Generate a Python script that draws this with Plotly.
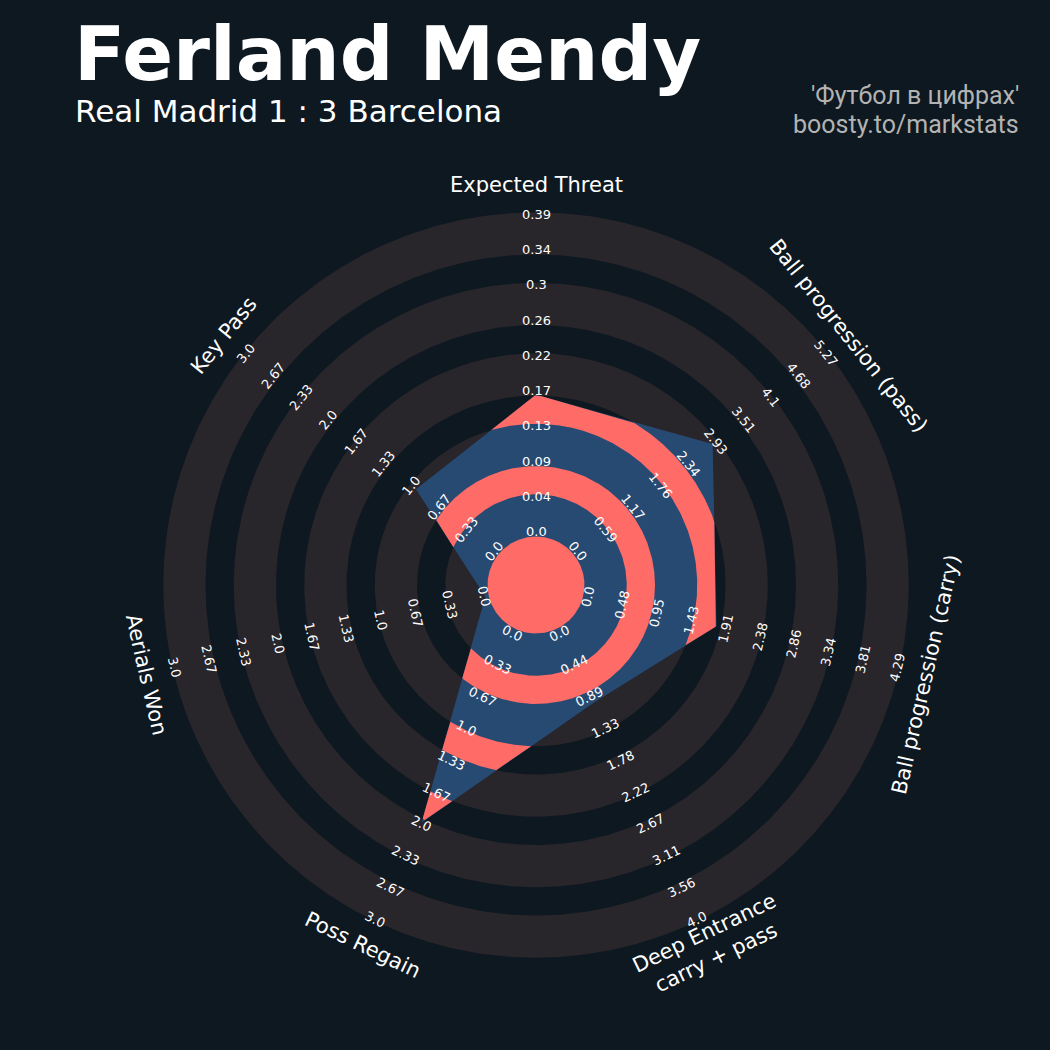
import numpy as np
import plotly.graph_objects as go

# radar data
params = ["Expected Threat", "Ball progression (pass)", "Ball progression (carry)",
          "Deep Entrance<br>carry + pass", "Poss Regain", "Aerials Won", "Key Pass"]
values = [0.17, 2.89, 1.80, 1.0, 2.0, 0.0, 0.96]
range_max = [0.39, 5.27, 4.29, 4.0, 3.0, 3.0, 3.0]
range_labels = [
    ["0.0", "0.04", "0.09", "0.13", "0.17", "0.22", "0.26", "0.3", "0.34", "0.39"],
    ["0.0", "0.59", "1.17", "1.76", "2.34", "2.93", "3.51", "4.1", "4.68", "5.27"],
    ["0.0", "0.48", "0.95", "1.43", "1.91", "2.38", "2.86", "3.34", "3.81", "4.29"],
    ["0.0", "0.44", "0.89", "1.33", "1.78", "2.22", "2.67", "3.11", "3.56", "4.0"],
    ["0.0", "0.33", "0.67", "1.0", "1.33", "1.67", "2.0", "2.33", "2.67", "3.0"],
    ["0.0", "0.33", "0.67", "1.0", "1.33", "1.67", "2.0", "2.33", "2.67", "3.0"],
    ["0.0", "0.33", "0.67", "1.0", "1.33", "1.67", "2.0", "2.33", "2.67", "3.0"],
]

title = "Ferland Mendy"
subtitle = "Real Madrid 1 : 3 Barcelona"
credits = ["'Футбол в цифрах'", "boosty.to/markstats"]

BG = "#0e1820"
RING = "#28252b"
RADAR = "#274a73"
RADAR_RING = "#ff6b66"
FONT = "DejaVu Sans"

# geometry (in pixels, centre of radar at 536, 585)
CX, CY = 536, 585
CENTER_R = 52.0
RING_W = 35.25
EDGE = 3.5
N_RINGS = 9
MAX_R = CENTER_R + N_RINGS * RING_W
LABEL_R = 400

n = len(params)
angles = np.deg2rad(90 - np.arange(n) * 360 / n)
radii = np.array([CENTER_R + v / m * (MAX_R - CENTER_R) for v, m in zip(values, range_max)])
verts = np.stack([radii * np.cos(angles), radii * np.sin(angles)], axis=1)

# ring bounds: the thick rings carry an edge line
ring_out = [CENTER_R + (2 * j + 1) * RING_W + EDGE for j in range(5)]
ring_in = [CENTER_R + 2 * j * RING_W - EDGE for j in range(5)]

# radius of the radar polygon along a fine set of directions
theta, poly_r = [], []
for i in range(n):
    a, b = verts[i], verts[(i + 1) % n]
    e = b - a
    th = np.linspace(angles[i], angles[i] - 2 * np.pi / n, 300, endpoint=False)
    dx, dy = np.cos(th), np.sin(th)
    theta.extend(th)
    poly_r.extend((a[0] * e[1] - a[1] * e[0]) / (dx * e[1] - dy * e[0]))
theta = np.array(theta)
poly_r = np.array(poly_r)


def disc(r, color):
    t = np.linspace(0, 2 * np.pi, 721)
    return go.Scatter(x=r * np.cos(t), y=r * np.sin(t), mode="lines", fill="toself",
                      fillcolor=color, line=dict(width=0), hoverinfo="skip")


def clipped_band(lo, hi, color):
    # ring lo..hi cut by the radar polygon
    outer = np.minimum(poly_r, hi)
    xs, ys = [], []
    if lo <= 0:
        xs, ys = list(outer * np.cos(theta)), list(outer * np.sin(theta))
    elif np.all(poly_r > lo):
        t = np.append(theta, theta[0])
        o = np.append(outer, outer[0])
        xs = list(o * np.cos(t)) + list(lo * np.cos(t[::-1]))
        ys = list(o * np.sin(t)) + list(lo * np.sin(t[::-1]))
    else:
        mask = poly_r > lo
        shift = int(np.argmin(mask))
        t = np.roll(theta, -shift)
        o = np.roll(outer, -shift)
        m = np.roll(mask, -shift)
        idx = np.flatnonzero(m)
        runs = np.split(idx, np.flatnonzero(np.diff(idx) > 1) + 1)
        for run in runs:
            if len(run) == 0:
                continue
            tr, orr = t[run], o[run]
            xs += list(orr * np.cos(tr)) + list(lo * np.cos(tr[::-1])) + [None]
            ys += list(orr * np.sin(tr)) + list(lo * np.sin(tr[::-1])) + [None]
    return go.Scatter(x=xs, y=ys, mode="lines", fill="toself", fillcolor=color,
                      line=dict(width=0), hoverinfo="skip", connectgaps=False)


fig = go.Figure()

for j in range(4, -1, -1):
    fig.add_trace(disc(ring_out[j], RING))
    fig.add_trace(disc(ring_in[j], BG))

fig.add_trace(go.Scatter(x=list(verts[:, 0]) + [verts[0, 0]], y=list(verts[:, 1]) + [verts[0, 1]],
                         mode="lines", fill="toself", fillcolor=RADAR, line=dict(width=0),
                         hoverinfo="skip"))
fig.add_trace(clipped_band(0, ring_in[0], RADAR_RING))
for j in range(1, 5):
    fig.add_trace(clipped_band(ring_out[j - 1], ring_in[j], RADAR_RING))

annotations = []
for i in range(n):
    deg = np.rad2deg(angles[i])
    rot = (deg % 180) - 90
    ca, sa = np.cos(angles[i]), np.sin(angles[i])
    annotations.append(dict(x=LABEL_R * ca, y=LABEL_R * sa, text=params[i], showarrow=False,
                            textangle=-rot, xanchor="center", yanchor="middle",
                            font=dict(family=FONT, size=21, color="#ffffff")))
    for k, lab in enumerate(range_labels[i]):
        rr = CENTER_R + k * RING_W + 1.5
        annotations.append(dict(x=rr * ca, y=rr * sa, text=lab, showarrow=False,
                                textangle=-rot, xanchor="center", yanchor="middle",
                                font=dict(family=FONT, size=13, color="#ffffff")))

annotations.append(dict(xref="paper", yref="paper", x=72 / 1050, y=1 - 54.5 / 1050,
                        text="<b>" + title + "</b>", showarrow=False, xanchor="left",
                        yanchor="middle", font=dict(family=FONT, size=75, color="#ffffff")))
annotations.append(dict(xref="paper", yref="paper", x=73 / 1050, y=1 - 111.5 / 1050,
                        text=subtitle, showarrow=False, xanchor="left", yanchor="middle",
                        font=dict(family=FONT, size=31, color="#ffffff")))
for k, line in enumerate(credits):
    annotations.append(dict(xref="paper", yref="paper", x=1021 / 1050, y=1 - (95 + 29 * k) / 1050,
                            text=line, showarrow=False, xanchor="right", yanchor="middle",
                            font=dict(family="Roboto", size=25, color="#b3b3b3")))

fig.update_layout(
    width=1050,
    height=1050,
    margin=dict(l=0, r=0, t=0, b=0),
    paper_bgcolor=BG,
    plot_bgcolor=BG,
    showlegend=False,
    xaxis=dict(range=[-CX, 1050 - CX], visible=False, fixedrange=True),
    yaxis=dict(range=[CY - 1050, CY], visible=False, fixedrange=True),
    annotations=annotations,
)

fig.write_html("out.html", config={"displayModeBar": False},
               post_script="document.body.style.margin='0';")
